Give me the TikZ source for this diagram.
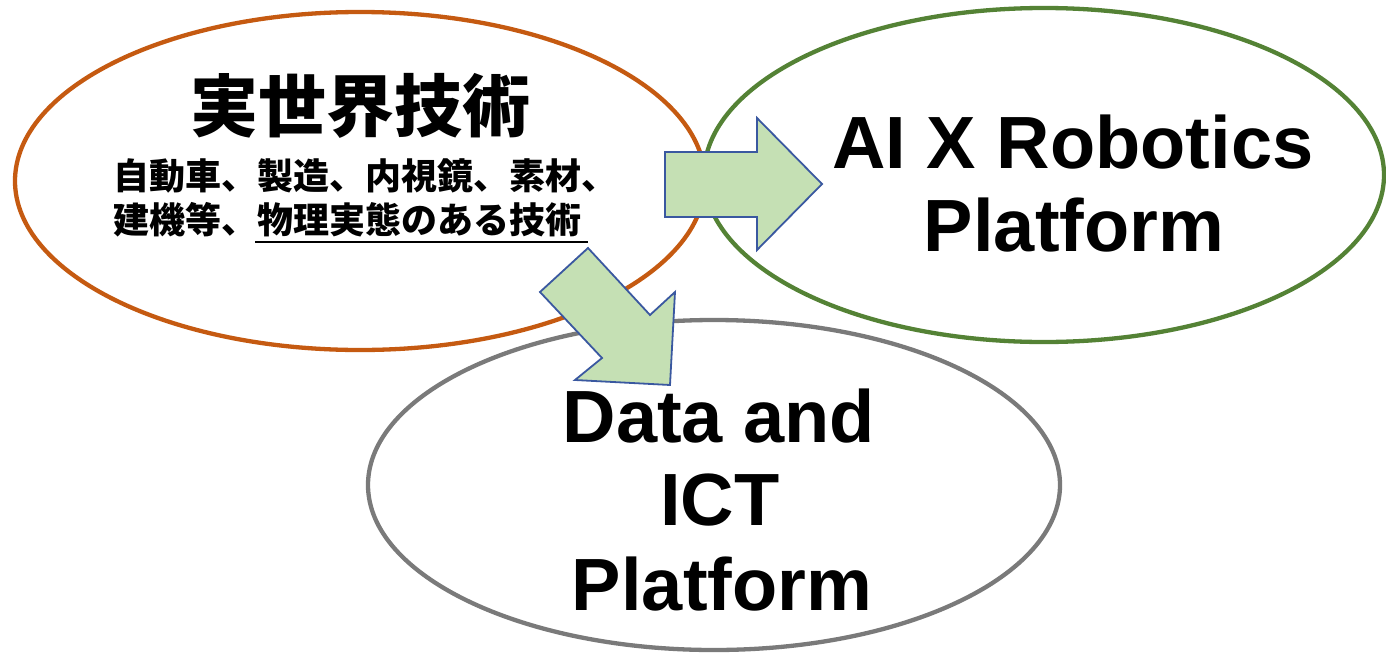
\documentclass[tikz,border=0pt]{standalone}
\usepackage{fontspec}
\setmainfont{Liberation Sans}
\newfontfamily\jpfont{Noto Sans CJK JP}
\usetikzlibrary{shapes.geometric}
\definecolor{orangeline}{HTML}{C55A11}
\definecolor{greenline}{HTML}{548235}
\definecolor{grayline}{HTML}{7A7A7A}
\definecolor{arrowfill}{HTML}{C5E0B4}
\definecolor{arrowline}{HTML}{3A58A0}
\tikzset{
  bubble/.style={ellipse, draw, line width=4.3pt, inner sep=0pt},
  blockarrow/.style={fill=arrowfill, draw=arrowline, line width=1.8pt, line join=miter},
  entxt/.style={font=\bfseries\fontsize{74}{84}\selectfont, anchor=base, inner sep=0pt},
  jptitle/.style={font=\jpfont\bfseries\fontsize{68}{80}\selectfont, anchor=base, inner sep=0pt},
  jpsub/.style={font=\jpfont\bfseries\fontsize{36}{44}\selectfont, anchor=base west, inner sep=0pt},
}
\begin{document}
\begin{tikzpicture}[x=1pt,y=-1pt]
\useasboundingbox (0,0) rectangle (1386,656);
\fill[white] (0,0) rectangle (1386,656);
% ellipses
\node[bubble, draw=orangeline, minimum width=690pt, minimum height=338pt] (real) at (360,181) {};
\node[bubble, draw=greenline, minimum width=680pt, minimum height=334pt] (ai) at (1044,175) {};
\node[bubble, draw=grayline, minimum width=692pt, minimum height=330pt] (data) at (714,485) {};
% block arrows
\draw[blockarrow] (665,152) -- (757,152) -- (757,118) -- (822,184) -- (757,250) -- (757,217) -- (665,217) -- cycle;
\draw[blockarrow] (588,248) -- (540,292) -- (602,358) -- (575,380) -- (670,385) -- (675,292) -- (650,315) -- cycle;
% texts
\node[jptitle] (title) at (360,131) {実世界技術};
\node[jpsub] (sub1) at (113,189) {自動車、製造、内視鏡、素材、};
\node[jpsub] (sub2) at (113,233) {建機等、物理実態のある技術};
\draw[line width=1.8pt] (255,242) -- (588,242);
\node[entxt] (ai1) at (1073,168) {AI X Robotics};
\node[entxt] (ai2) at (1074,251) {Platform};
\node[entxt] (d1) at (719,442) {Data and};
\node[entxt] (d2) at (720,525) {ICT};
\node[entxt] (d3) at (722,610) {Platform};
\end{tikzpicture}
\end{document}
